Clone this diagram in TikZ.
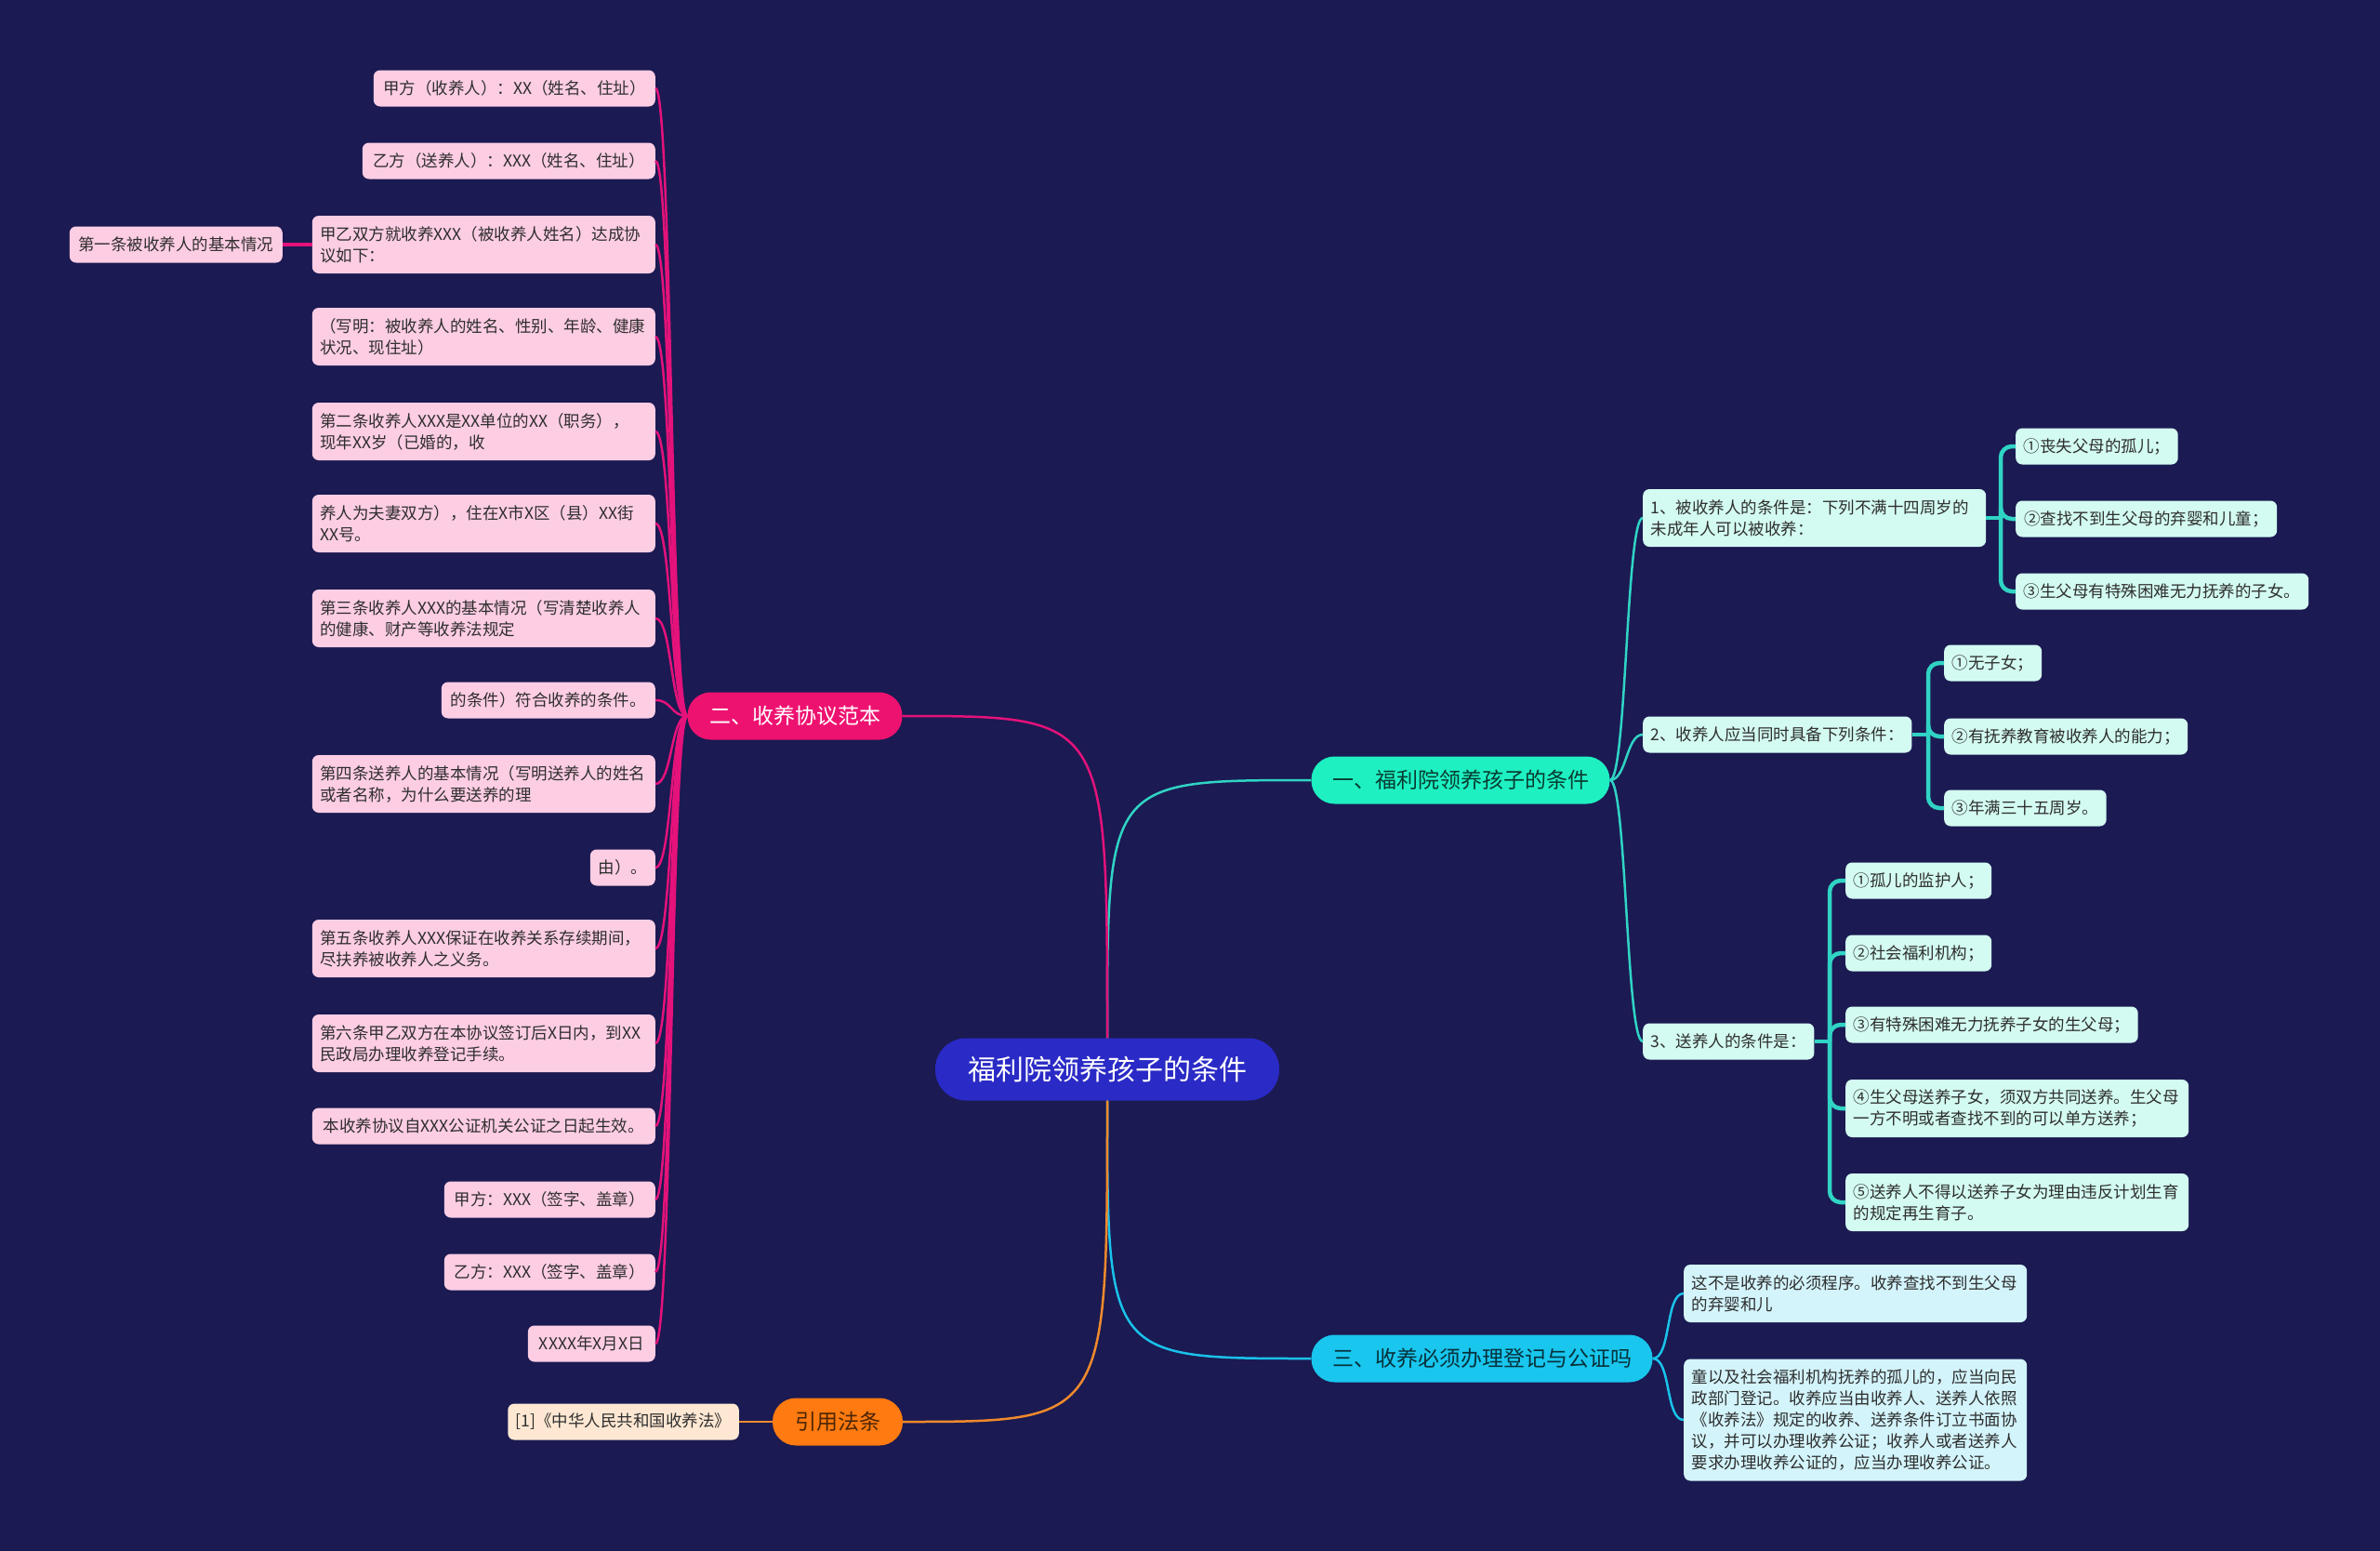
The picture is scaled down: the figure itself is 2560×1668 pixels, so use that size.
\documentclass[tikz,border=0pt]{standalone}
\usepackage{fontspec}
\setmainfont{Noto Sans CJK SC}
\definecolor{bgc}{HTML}{1B1A52}
\definecolor{rootc}{HTML}{2A2AC6}
\definecolor{pinkB}{HTML}{EE1270}
\definecolor{pinkL}{HTML}{FDCDE4}
\definecolor{pinkLine}{HTML}{E4127A}
\definecolor{tealB}{HTML}{1EF0C2}
\definecolor{tealL}{HTML}{D3FBF1}
\definecolor{tealLine}{HTML}{30D4C4}
\definecolor{cyanB}{HTML}{19C6EE}
\definecolor{cyanL}{HTML}{D3F4FB}
\definecolor{cyanLine}{HTML}{1AC2EA}
\definecolor{orB}{HTML}{FF7A10}
\definecolor{orL}{HTML}{FFE8D3}
\definecolor{orLine}{HTML}{F08A2C}
\definecolor{leafText}{HTML}{2E2E2E}
\tikzset{
  leaf/.style={rounded corners=7pt, inner xsep=8.5pt, inner ysep=4pt,
    font=\fontsize{17.5pt}{23pt}\selectfont, align=left, minimum height=39pt, text=leafText},
  pinkleaf/.style={leaf, fill=pinkL},
  tealleaf/.style={leaf, fill=tealL},
  cyanleaf/.style={leaf, fill=cyanL},
  orleaf/.style={leaf, fill=orL},
  twoline/.style={text width=352pt, minimum height=62pt},
  fiveline/.style={text width=352pt, minimum height=131pt},
  branch/.style={rounded corners=25pt, minimum height=51pt, inner xsep=4pt,
    font=\fontsize{23pt}{28pt}\selectfont},
  pinkline/.style={draw=pinkLine, line width=2.5pt},
  tealline/.style={draw=tealLine, line width=2.5pt},
  tealthick/.style={draw=tealLine, line width=4.5pt},
  cyanline/.style={draw=cyanLine, line width=2.5pt},
  orline/.style={draw=orLine, line width=2.5pt},
}
\begin{document}
\begin{tikzpicture}[x=1pt,y=-1pt]
\useasboundingbox (0,0) rectangle (2560,1668);
\fill[bgc] (0,0) rectangle (2560,1668);

% root and branches
\node[rounded corners=33pt, fill=rootc, text=white, minimum width=370pt, minimum height=67pt,
  font=\fontsize{30pt}{36pt}\selectfont] (R) at (1191,1150) {福利院领养孩子的条件};
\node[branch, fill=tealB, text=tealB!25!black, minimum width=321pt] (B1) at (1571,839) {一、福利院领养孩子的条件};
\node[branch, fill=cyanB, text=cyanB!25!black, minimum width=367pt] (B3) at (1594,1461) {三、收养必须办理登记与公证吗};
\node[branch, fill=pinkB, text=white, minimum width=231pt] (B2) at (855,770) {二、收养协议范本};
\node[branch, fill=orB, text=orB!30!black, minimum width=140pt] (B4) at (901,1529) {引用法条};

% left pink leaves
\node[pinkleaf, anchor=east, minimum width=303pt] (L1) at (705,95) {甲方（收养人）：XX（姓名、住址）};
\node[pinkleaf, anchor=east, minimum width=315pt] (L2) at (705,173) {乙方（送养人）：XXX（姓名、住址）};
\node[pinkleaf, twoline, anchor=east] (L3) at (705,263) {甲乙双方就收养XXX（被收养人姓名）达成协\\议如下：};
\node[pinkleaf, twoline, anchor=east] (L4) at (705,362) {（写明：被收养人的姓名、性别、年龄、健康\\状况、现住址）};
\node[pinkleaf, twoline, anchor=east] (L5) at (705,464) {第二条收养人XXX是XX单位的XX（职务），\\现年XX岁（已婚的，收};
\node[pinkleaf, twoline, anchor=east] (L6) at (705,563) {养人为夫妻双方），住在X市X区（县）XX街\\XX号。};
\node[pinkleaf, twoline, anchor=east] (L7) at (705,665) {第三条收养人XXX的基本情况（写清楚收养人\\的健康、财产等收养法规定};
\node[pinkleaf, anchor=east, minimum width=230pt] (L8) at (705,753) {的条件）符合收养的条件。};
\node[pinkleaf, twoline, anchor=east] (L9) at (705,843) {第四条送养人的基本情况（写明送养人的姓名\\或者名称，为什么要送养的理};
\node[pinkleaf, anchor=east, minimum width=70pt] (L10) at (705,933) {由）。};
\node[pinkleaf, twoline, anchor=east] (L11) at (705,1020) {第五条收养人XXX保证在收养关系存续期间，\\尽扶养被收养人之义务。};
\node[pinkleaf, twoline, anchor=east] (L12) at (705,1122) {第六条甲乙双方在本协议签订后X日内，到XX\\民政局办理收养登记手续。};
\node[pinkleaf, anchor=east, minimum width=369pt] (L13) at (705,1211) {本收养协议自XXX公证机关公证之日起生效。};
\node[pinkleaf, anchor=east, minimum width=227pt] (L14) at (705,1290) {甲方：XXX（签字、盖章）};
\node[pinkleaf, anchor=east, minimum width=227pt] (L15) at (705,1368) {乙方：XXX（签字、盖章）};
\node[pinkleaf, anchor=east, minimum width=137pt] (L16) at (705,1445) {XXXX年X月X日};
\node[pinkleaf, anchor=east, minimum width=229pt] (L0) at (304,263) {第一条被收养人的基本情况};

% citation
\node[orleaf, anchor=east, minimum width=248pt] (C1) at (795,1529) {[1]《中华人民共和国收养法》};

% right side
\node[tealleaf, twoline, anchor=west] (R1) at (1767,557) {1、被收养人的条件是：下列不满十四周岁的\\未成年人可以被收养：};
\node[tealleaf, anchor=west, minimum width=280pt] (R2) at (1767,790) {2、收养人应当同时具备下列条件：};
\node[tealleaf, anchor=west, minimum width=184pt] (R3) at (1767,1120) {3、送养人的条件是：};

\node[tealleaf, anchor=west, minimum width=173pt] (R1a) at (2168,480) {①丧失父母的孤儿；};
\node[tealleaf, anchor=west, minimum width=281pt] (R1b) at (2168,558) {②查找不到生父母的弃婴和儿童；};
\node[tealleaf, anchor=west, minimum width=315pt] (R1c) at (2168,636) {③生父母有特殊困难无力抚养的子女。};

\node[tealleaf, anchor=west, minimum width=105pt] (R2a) at (2091,713) {①无子女；};
\node[tealleaf, anchor=west, minimum width=262pt] (R2b) at (2091,792) {②有抚养教育被收养人的能力；};
\node[tealleaf, anchor=west, minimum width=174pt] (R2c) at (2091,869) {③年满三十五周岁。};

\node[tealleaf, anchor=west, minimum width=155pt] (R3a) at (1985,947) {①孤儿的监护人；};
\node[tealleaf, anchor=west, minimum width=155pt] (R3b) at (1985,1025) {②社会福利机构；};
\node[tealleaf, anchor=west, minimum width=312pt] (R3c) at (1985,1102) {③有特殊困难无力抚养子女的生父母；};
\node[tealleaf, twoline, anchor=west] (R3d) at (1985,1192) {④生父母送养子女，须双方共同送养。生父母\\一方不明或者查找不到的可以单方送养；};
\node[tealleaf, twoline, anchor=west] (R3e) at (1985,1293) {⑤送养人不得以送养子女为理由违反计划生育\\的规定再生育子。};

\node[cyanleaf, twoline, anchor=west] (T1) at (1811,1391) {这不是收养的必须程序。收养查找不到生父母\\的弃婴和儿};
\node[cyanleaf, fiveline, anchor=west] (T2) at (1811,1527) {童以及社会福利机构抚养的孤儿的，应当向民\\政部门登记。收养应当由收养人、送养人依照\\《收养法》规定的收养、送养条件订立书面协\\议，并可以办理收养公证；收养人或者送养人\\要求办理收养公证的，应当办理收养公证。};

% connectors from root
\begin{scope}[on background layer/.style={}]
\draw[tealline] (R.north) .. controls (R.north |- B1.west) .. (B1.west);
\draw[pinkline] (R.north) .. controls (R.north |- B2.east) .. (B2.east);
\draw[cyanline] (R.south) .. controls (R.south |- B3.west) .. (B3.west);
\draw[orline] (R.south) .. controls (R.south |- B4.east) .. (B4.east);
\end{scope}

% pink fan
\foreach \n in {L1,L2,L3,L4,L5,L6,L7,L8,L9,L10,L11,L12,L13,L14,L15,L16}
  \draw[pinkline] (B2.west) .. controls +(-18,0) and +(18,0) .. (\n.east);
\draw[pinkline, line width=4pt] (L0.east) -- (L3.west);

% orange
\draw[orline] (B4.west) -- (C1.east);

% teal fan
\foreach \n in {R1,R2,R3}
  \draw[tealline] (B1.east) .. controls +(18,0) and +(-18,0) .. (\n.west);

% cyan fan
\foreach \n in {T1,T2}
  \draw[cyanline] (B3.east) .. controls +(20,0) and +(-20,0) .. (\n.west);

% teal T-junctions
\coordinate (j1) at (2152,557);
\coordinate (j2) at (2074,790);
\coordinate (j3) at (1968,1120);
\draw[tealthick] (R1.east) -- (j1);
\draw[tealthick] (R2.east) -- (j2);
\draw[tealthick] (R3.east) -- (j3);
\foreach \n in {R1a,R1b,R1c} \draw[tealthick, rounded corners=12pt] (j1) |- (\n.west);
\foreach \n in {R2a,R2b,R2c} \draw[tealthick, rounded corners=12pt] (j2) |- (\n.west);
\foreach \n in {R3a,R3b,R3c,R3d,R3e} \draw[tealthick, rounded corners=12pt] (j3) |- (\n.west);
\end{tikzpicture}
\end{document}
